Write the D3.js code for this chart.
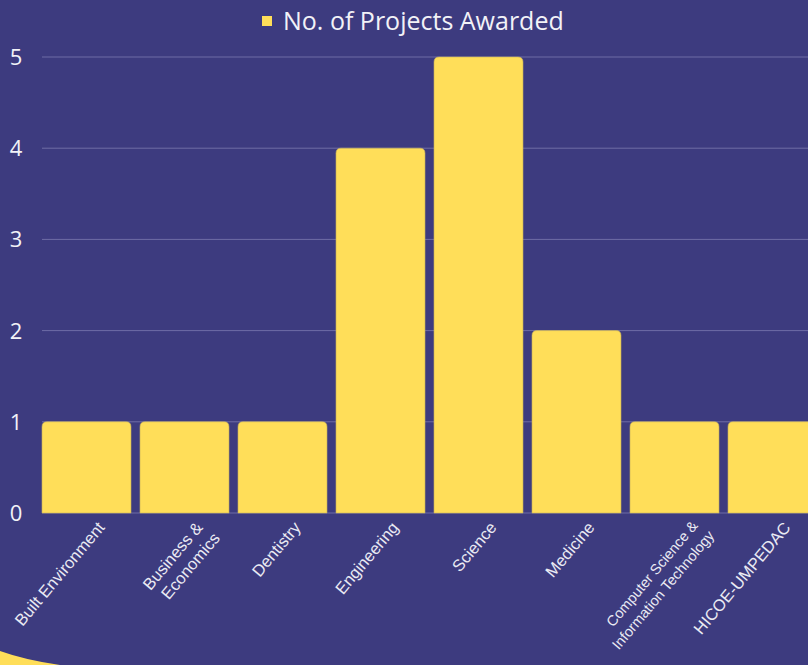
<!DOCTYPE html>
<html><head><meta charset="utf-8">
<script src="https://cdn.jsdelivr.net/npm/d3@7"></script>
<style>html,body{margin:0;padding:0;background:#3d3b7f;overflow:hidden}</style>
</head><body>
<script>
const categories = [["Built Environment"],["Business &","Economics"],["Dentistry"],["Engineering"],["Science"],["Medicine"],["Computer Science &","Information Technology"],["HICOE-UMPEDAC"]];
const values = [1,1,1,4,5,2,1,1];
const yTicks = [0,1,2,3,4,5];
const seriesName = "No. of Projects Awarded";

const W=808,H=665;
const svg=d3.select("body").append("svg").attr("width",W).attr("height",H);
svg.append("rect").attr("width",W).attr("height",H).attr("fill","#3d3b7f");

// decorative curve bottom-left
svg.append("path").attr("d","M0,651 Q25,660 60,665 L0,665 Z").attr("fill","#ffde59");

const x=d3.scaleBand().domain(d3.range(categories.length)).range([37.5,821.5]).paddingInner(0.092).paddingOuter(0.046);
const y=d3.scaleLinear().domain([0,5]).range([513,57]);

// grid
svg.append("g").selectAll("line").data(yTicks).join("line")
  .attr("x1",42).attr("x2",W).attr("y1",d=>y(d)).attr("y2",d=>y(d))
  .attr("stroke","#6f6da6").attr("stroke-width",1);

// y labels
svg.append("g").selectAll("text").data(yTicks).join("text")
  .attr("x",16).attr("y",d=>y(d)).attr("dy","0.36em").attr("text-anchor","middle")
  .attr("fill","#f2f2f7").style("font-family","'Open Sans',sans-serif").style("font-size","22px")
  .text(d=>d);

// bars with rounded top corners
const r=5;
svg.append("g").selectAll("path").data(values).join("path")
  .attr("d",(d,i)=>{
    const x0=x(i),w=x.bandwidth(),y0=y(d),y1=y(0);
    return `M${x0},${y1}V${y0+r}Q${x0},${y0} ${x0+r},${y0}H${x0+w-r}Q${x0+w},${y0} ${x0+w},${y0+r}V${y1}Z`;
  })
  .attr("fill","#ffde59").attr("stroke","#c9b35a").attr("stroke-width",0.6);

// x labels
const lg=svg.append("g");
categories.forEach((lines,i)=>{
  const cx=x(i)+x.bandwidth()/2;
  const small=lines[0].length>15 && lines.length>1;
  const fs=small?14.5:16.5;
  const lh=small?19:20;
  const t=lg.append("text")
    .attr("transform",`translate(${cx+(small?24:19)},${small?526:528}) rotate(-50)`)
    .attr("text-anchor","end").attr("fill","#eaeaf3")
    .style("font-family","'Liberation Sans',Arial,sans-serif").style("font-size",fs+"px");
  lines.forEach((l,j)=>{
    t.append("tspan").attr("x",j*3).attr("y",j*lh).text(l);
  });
});

// legend
const leg=svg.append("g");
leg.append("rect").attr("x",262).attr("y",16).attr("width",10).attr("height",10).attr("fill","#ffde59");
leg.append("text").attr("x",283).attr("y",30).attr("fill","#f2f2f7")
  .style("font-family","'Open Sans',sans-serif").style("font-size","25px").text(seriesName);
</script>
</body></html>
